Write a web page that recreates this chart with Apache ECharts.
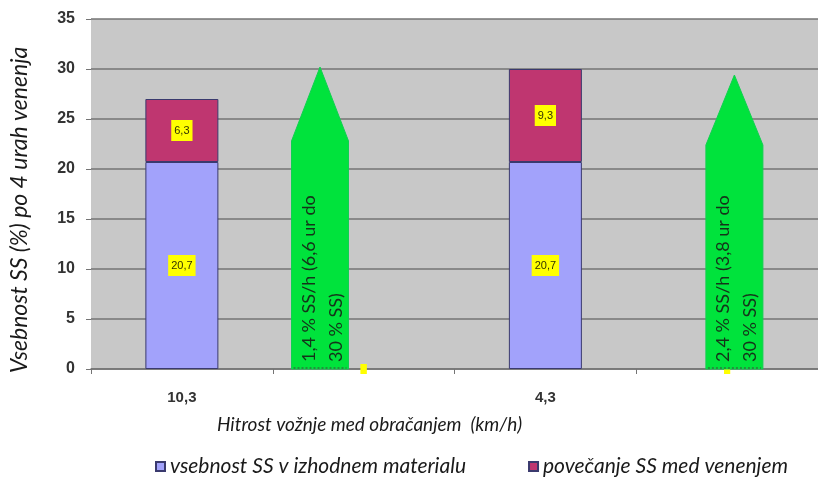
<!DOCTYPE html>
<html>
<head>
<meta charset="utf-8">
<script src="https://cdn.jsdelivr.net/npm/echarts@6/dist/echarts.min.js"></script>
<style>
  html, body { margin: 0; padding: 0; background: #ffffff; }
  #chart { width: 818px; height: 477px; }
</style>
</head>
<body>
<div id="chart"></div>
<script>
// Driving speed during turning (km/h); the empty slots carry the rate arrows
const categories = ['10,3', '', '4,3', ''];
// Dry matter in the starting material (%)
const baseValues = [20.7, 0, 20.7, 0];
// Dry matter increase during wilting (%)
const increaseValues = [6.3, 0, 9.3, 0];
const yTicks = [0, 5, 10, 15, 20, 25, 30, 35];

// Rate arrows: position along the category axis, tip value, shoulder value, text lines
const arrowX = [1.26, 3.54];
const arrowTip = [30.2, 29.4];
const arrowShoulder = [22.8, 22.4];
const arrowLine1 = ['1,4 % SS/h (6,6 ur do', '2,4 % SS/h (3,8 ur do'];
const arrowLine2 = ['30 % SS)', '30 % SS)'];

const fontItalic = { fontFamily: 'Lato', fontStyle: 'italic', color: '#1a1a1a' };

const arrowData = arrowX.map((x, i) => [x, arrowTip[i], arrowShoulder[i], arrowLine1[i], arrowLine2[i]]);

function renderArrow(params, api) {
  const cx = api.coord([api.value(0), 0])[0];
  const base = api.coord([api.value(0), 0])[1];
  const tipY = api.coord([api.value(0), api.value(1)])[1];
  const shY = api.coord([api.value(0), api.value(2)])[1];
  const half = 28.5;
  const line1 = arrowData[params.dataIndex][3];
  const line2 = arrowData[params.dataIndex][4];
  return {
    type: 'group',
    children: [
      {
        type: 'polygon',
        shape: { points: [[cx - half, base], [cx - half, shY], [cx, tipY], [cx + half, shY], [cx + half, base]] },
        style: { fill: '#00e33c', stroke: '#10d050', lineWidth: 1 }
      },
      {
        type: 'line',
        shape: { x1: cx - half + 2, y1: base - 1, x2: cx + half - 2, y2: base - 1 },
        style: { stroke: '#2a7a3a', lineWidth: 1.5, lineDash: [2, 2] }
      },
      {
        type: 'text',
        x: cx - 11, y: base - 7, rotation: Math.PI / 2,
        style: { text: line1, fontFamily: 'Lato', fontSize: 18, fill: '#15331a', align: 'left', verticalAlign: 'middle' }
      },
      {
        type: 'text',
        x: cx + 16, y: base - 7, rotation: Math.PI / 2,
        style: { text: line2, fontFamily: 'Lato', fontSize: 18, fill: '#15331a', align: 'left', verticalAlign: 'middle' }
      }
    ]
  };
}

const valueLabel = {
  show: true,
  position: 'inside',
  formatter: p => p.value ? String(p.value).replace('.', ',') : '',
  backgroundColor: '#ffff00',
  color: '#333300',
  fontFamily: 'Arial, Liberation Sans',
  fontSize: 11,
  padding: [5, 3]
};

// zero-height slots get no outline
const asBarData = values => values.map(v => v === 0 ? { value: 0, itemStyle: { borderWidth: 0 } } : v);

const chart = echarts.init(document.getElementById('chart'), null, { renderer: 'canvas' });
chart.setOption({
  animation: false,
  backgroundColor: '#ffffff',
  grid: { left: 90, right: 0, top: 19, bottom: 108, show: true, backgroundColor: '#c8c8c8', borderWidth: 0 },
  legend: {
    left: 150, top: 451,
    itemWidth: 9, itemHeight: 9, itemGap: 62,
    textStyle: Object.assign({ fontSize: 21, color: '#1a1a1a' }, fontItalic),
    data: [
      { name: 'vsebnost SS v izhodnem materialu', icon: 'rect' },
      { name: 'povečanje SS med venenjem', icon: 'rect' }
    ]
  },
  xAxis: [
    {
      type: 'category',
      data: categories,
      boundaryGap: true,
      name: 'Hitrost vožnje med obračanjem  (km/h)',
      nameLocation: 'middle',
      nameGap: 46,
      nameTextStyle: Object.assign({ fontSize: 19, padding: [0, 170, 0, 0] }, fontItalic),
      axisLine: { show: true, lineStyle: { color: '#747474', width: 1.5 } },
      axisTick: { show: true, length: 5, alignWithLabel: false, lineStyle: { color: '#747474' } },
      axisLabel: { margin: 21, fontFamily: 'Arial, Liberation Sans', fontWeight: 'bold', fontSize: 15, color: '#333333' }
    },
    { type: 'value', min: 0, max: 4, show: false }
  ],
  yAxis: {
    type: 'value',
    min: 0, max: 35, interval: 5,
    name: 'Vsebnost SS (%) po 4 urah venenja',
    nameLocation: 'middle',
    nameGap: 60,
    nameRotate: 90,
    nameTextStyle: Object.assign({ fontSize: 23, padding: [0, 32, 0, 0] }, fontItalic),
    axisLine: { show: false },
    axisTick: { show: true, length: 5, lineStyle: { color: '#747474' } },
    axisLabel: {
      margin: 16,
      fontFamily: 'Arial, Liberation Sans', fontWeight: 'bold', fontSize: 16, color: '#333333',
      formatter: v => yTicks.includes(v) ? String(v) : ''
    },
    splitLine: { show: true, lineStyle: { color: '#747474', width: 1.5 } }
  },
  series: [
    {
      name: 'vsebnost SS v izhodnem materialu',
      type: 'bar',
      stack: 'ss',
      barWidth: 73,
      data: asBarData(baseValues),
      itemStyle: { color: '#a2a2fb', borderColor: '#3a3a6e', borderWidth: 1 },
      label: valueLabel
    },
    {
      name: 'povečanje SS med venenjem',
      type: 'bar',
      stack: 'ss',
      barWidth: 73,
      data: asBarData(increaseValues),
      itemStyle: { color: '#bf3670', borderColor: '#3a3a6e', borderWidth: 1 },
      label: valueLabel
    },
    {
      name: 'arrows',
      type: 'custom',
      xAxisIndex: 1,
      yAxisIndex: 0,
      renderItem: renderArrow,
      data: arrowData.map(d => [d[0], d[1], d[2]]),
      z: 3
    }
  ]
});
</script>
</body>
</html>
